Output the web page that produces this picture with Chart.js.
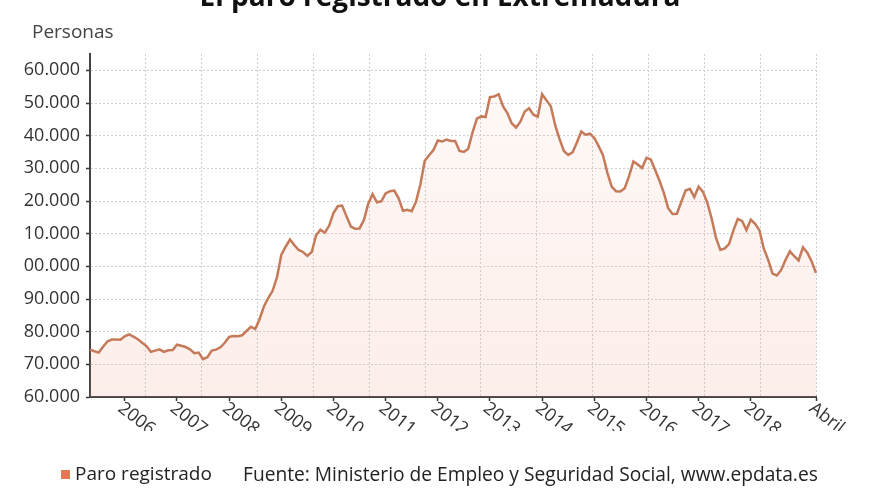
<!DOCTYPE html>
<html>
<head>
<meta charset="utf-8">
<script src="https://cdn.jsdelivr.net/npm/chart.js@4/dist/chart.umd.min.js"></script>
<style>
  html, body { margin: 0; padding: 0; background: #fff; }
  #wrap { position: relative; width: 880px; height: 495px; overflow: hidden; font-family: "Open Sans", sans-serif; }
  #chart { position: absolute; left: 0; top: 0; }
  .txt { position: absolute; white-space: nowrap; }
  #title { left: 0; width: 880px; text-align: center; top: -19px; font-size: 28px; line-height: 28px; font-weight: 700; color: #111; }
  #unit { left: 32px; top: 22px; font-size: 19px; line-height: 19px; color: #444; }
  #legend { left: 61px; top: 462px; font-size: 19px; line-height: 23px; color: #222; }
  #legend .box { display: inline-block; width: 9px; height: 9px; background: #e07a55; margin-right: 5px; vertical-align: 1px; }
  #source { left: 243px; top: 462px; font-size: 19.2px; line-height: 23px; color: #222; }
</style>
</head>
<body>
<div id="wrap">
  <canvas id="chart" width="880" height="495"></canvas>
  <div class="txt" id="title">El paro registrado en Extremadura</div>
  <div class="txt" id="unit">Personas</div>
  <div class="txt" id="legend"><span class="box"></span>Paro registrado</div>
  <div class="txt" id="source">Fuente: Ministerio de Empleo y Seguridad Social, www.epdata.es</div>
</div>
<script>
// months from May 2005 to April 2019
const months = [];
for (let y = 2005; y <= 2019; y++) {
    for (let m = 1; m <= 12; m++) {
        if ((y === 2005 && m < 5) || (y === 2019 && m > 4)) continue;
        months.push(y + '-' + String(m).padStart(2, '0'));
    }
}

// registered unemployment, persons
const paro = [
    74500, 74000, 73600, 75400, 77000, 77600, 77600, 77500, 78600, 79200,
    78500, 77700, 76600, 75600, 73800, 74200, 74600, 73800, 74300, 74400,
    76000, 75700, 75300, 74600, 73400, 73600, 71600, 72200, 74200, 74500,
    75200, 76600, 78400, 78700, 78600, 78900, 80200, 81500, 80800, 83800,
    87700, 90300, 92500, 96600, 103500, 106000, 108200, 106500, 105000, 104400,
    103200, 104400, 109500, 111200, 110300, 112400, 116300, 118400, 118600, 115300,
    112200, 111500, 111600, 114200, 119200, 122100, 119600, 119900, 122300, 123000,
    123200, 120800, 117000, 117300, 116900, 119800, 125100, 132300, 134000, 135600,
    138500, 138200, 138800, 138400, 138400, 135300, 135000, 136000, 141000, 145200,
    145900, 145700, 151800, 152000, 152700, 149000, 146900, 143800, 142500, 144300,
    147400, 148400, 146400, 145800, 152700, 150800, 149000, 143200, 139000, 135300,
    134100, 134900, 137900, 141300, 140300, 140600, 139300, 136800, 134000, 128700,
    124400, 123000, 122900, 123900, 127600, 132100, 131200, 130100, 133200, 132700,
    129500, 126200, 122500, 117800, 116000, 116100, 119700, 123200, 123700, 121200,
    124400, 122800, 119500, 114600, 108700, 105000, 105500, 106800, 111000, 114500,
    113900, 111100, 114300, 113000, 111000, 105400, 102000, 97800, 97200, 98900,
    102000, 104600, 103100, 101800, 105800, 104200, 101500, 98000
];

const xTickMonths = ['2006-01', '2007-01', '2008-01', '2009-01', '2010-01', '2011-01', '2012-01',
    '2013-01', '2014-01', '2015-01', '2016-01', '2017-01', '2018-01', '2019-04'];
const xTickLabels = ['2006', '2007', '2008', '2009', '2010', '2011', '2012',
    '2013', '2014', '2015', '2016', '2017', '2018', 'Abril'];

const yTicks = [60000, 70000, 80000, 90000, 100000, 110000, 120000, 130000, 140000, 150000, 160000];
const yTickLabels = ['60.000', '70.000', '80.000', '90.000', '00.000', '10.000', '20.000',
    '30.000', '40.000', '50.000', '60.000'];

// rotated, clipped year labels under the x axis
const xLabelPlugin = {
    id: 'xLabels',
    afterDraw(chart) {
        const ctx = chart.ctx;
        const s = chart.scales.x;
        ctx.save();
        ctx.beginPath();
        ctx.rect(0, s.top, chart.width, 431 - s.top);
        ctx.clip();
        ctx.font = '18px "Open Sans"';
        ctx.fillStyle = '#333';
        ctx.textAlign = 'left';
        ctx.textBaseline = 'top';
        s.ticks.forEach(t => {
            const label = xTickLabels[xTickMonths.indexOf(months[t.value])];
            const x = s.getPixelForValue(t.value);
            ctx.save();
            ctx.translate(x + 1, s.top + 2);
            ctx.rotate(38 * Math.PI / 180);
            ctx.fillText(label, 0, 0);
            ctx.restore();
        });
        ctx.restore();
    }
};

const ctx = document.getElementById('chart').getContext('2d');
const chart = new Chart(ctx, {
    type: 'line',
    data: {
        labels: months,
        datasets: [{
            label: 'Paro registrado',
            data: paro,
            borderColor: '#c57a5a',
            borderWidth: 2.5,
            pointRadius: 0,
            tension: 0,
            fill: 'start',
            backgroundColor: function(c) {
                const area = c.chart.chartArea;
                if (!area) return 'rgba(235,140,110,0.1)';
                const g = c.chart.ctx.createLinearGradient(0, area.top, 0, area.bottom);
                g.addColorStop(0, 'rgba(240,150,120,0.05)');
                g.addColorStop(1, 'rgba(240,150,120,0.16)');
                return g;
            }
        }]
    },
    options: {
        responsive: false,
        animation: false,
        layout: { padding: { top: 54, right: 64, left: 0, bottom: 0 } },
        plugins: {
            legend: { display: false },
            title: { display: false },
            tooltip: { enabled: false }
        },
        scales: {
            x: {
                type: 'category',
                position: 'bottom',
                grid: { drawOnChartArea: false, color: '#333', tickColor: '#333', tickLength: 4, tickWidth: 1.5 },
                border: { display: true, color: '#444', width: 2 },
                ticks: { display: false, autoSkip: false },
                afterBuildTicks: s => {
                    s.ticks = xTickMonths.map(m => ({ value: months.indexOf(m) }));
                },
                afterFit: s => { s.height = 98; }
            },
            xg: {
                type: 'linear',
                position: 'bottom',
                min: 0,
                max: 13,
                ticks: { display: false, stepSize: 1 },
                grid: { color: '#cfcfcf', lineWidth: 1, drawTicks: false },
                border: { display: false, dash: [2, 2] },
                afterFit: s => { s.height = 0; }
            },
            y: {
                type: 'linear',
                min: 60000,
                max: 165000,
                grid: { color: '#cfcfcf', lineWidth: 1, tickColor: '#333', tickLength: 4, tickWidth: 1.5 },
                border: { display: true, color: '#444', width: 2, dash: [2, 2] },
                ticks: {
                    color: '#333',
                    font: { family: 'Open Sans', size: 18 },
                    padding: 6,
                    callback: v => yTickLabels[yTicks.indexOf(v)]
                },
                afterBuildTicks: s => {
                    s.ticks = yTicks.map(v => ({ value: v }));
                },
                afterFit: s => { s.width = 90; }
            }
        }
    },
    plugins: [xLabelPlugin]
});
</script>
</body>
</html>
